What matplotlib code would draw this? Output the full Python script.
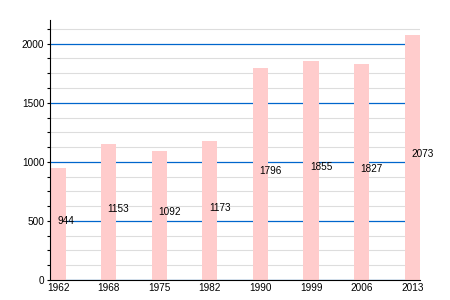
import matplotlib
matplotlib.use('Agg')
from matplotlib import pyplot as plt
from matplotlib.ticker import MultipleLocator

years = ['1962', '1968', '1975', '1982', '1990', '1999', '2006', '2013']
population = [944, 1153, 1092, 1173, 1796, 1855, 1827, 2073]

plt.rcParams['font.family'] = ['Liberation Sans', 'DejaVu Sans']

fig = plt.figure(figsize=(4.5, 3), dpi=100)
ax = fig.add_axes([0.111, 0.067, 0.822, 0.866])

x = list(range(len(years)))
ax.bar(x, population, width=0.3, color='#ffcccc', zorder=2)

# population labels, baseline half way up each bar
for xi, v in zip(x, population):
    ax.text(xi - 0.02, v / 2, str(v), ha='left', va='baseline', fontsize=7.2,
            color='black', zorder=3, clip_on=False)

ax.set_xlim(-0.16, 7.15)
ax.set_ylim(0, 2200)
ax.set_xticks(x)
ax.set_xticklabels(years)
ax.yaxis.set_major_locator(MultipleLocator(500))
ax.yaxis.set_minor_locator(MultipleLocator(125))

ax.grid(axis='y', which='minor', color='#dddddd', linewidth=0.8, zorder=0)
ax.grid(axis='y', which='major', color='#0066cc', linewidth=0.9, zorder=1)

ax.spines['top'].set_visible(False)
ax.spines['right'].set_visible(False)
ax.tick_params(axis='both', labelsize=7.2, length=2, width=0.8, pad=2)
ax.tick_params(axis='y', which='minor', length=2, width=0.8)
ax.tick_params(axis='x', length=0)

fig.savefig('out.png', dpi=100)
plt.close()
